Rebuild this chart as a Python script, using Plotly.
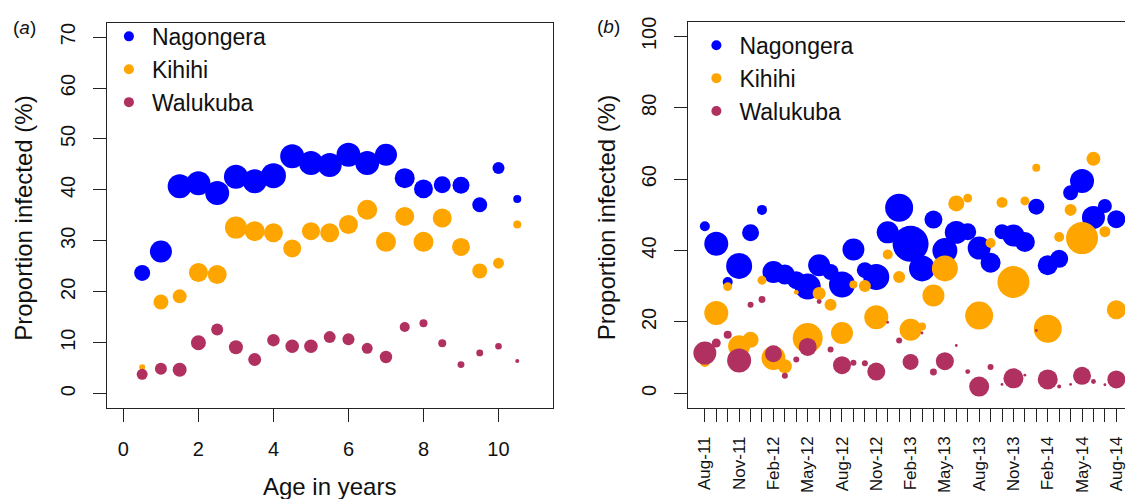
import math
import plotly.graph_objects as go

# ---------------- data ----------------
sites = ["Nagongera", "Kihihi", "Walukuba"]
site_colors = ["#0000FF", "#FFA500", "#B03060"]

# Panel (a): proportion infected by age
ages = [0.5, 1.0, 1.5, 2.0, 2.5, 3.0, 3.5, 4.0, 4.5, 5.0, 5.5,
        6.0, 6.5, 7.0, 7.5, 8.0, 8.5, 9.0, 9.5, 10.0, 10.5]
age_nagongera = [23.7, 27.9, 40.7, 41.3, 39.4, 42.6, 41.7, 42.8, 46.6, 45.3, 44.9,
                 46.9, 45.3, 46.9, 42.3, 40.2, 41.0, 40.9, 37.1, 44.3, 38.2]
age_kihihi = [5.2, 18.0, 19.1, 23.8, 23.4, 32.6, 31.9, 31.6, 28.5, 31.9, 31.6,
              33.2, 36.1, 29.8, 34.8, 29.8, 34.5, 28.8, 24.1, 25.6, 33.2]
age_walukuba = [3.8, 4.9, 4.7, 10.0, 12.6, 9.1, 6.7, 10.5, 9.3, 9.3, 11.1,
                10.7, 8.9, 7.2, 13.1, 13.8, 9.9, 5.7, 8.0, 9.3, 6.4]
# sample sizes (bubble area)
age_n_nagongera = [64, 121, 144, 144, 144, 144, 144, 156, 144, 144, 144,
                   144, 144, 121, 100, 90, 72, 72, 56, 36, 16]
age_n_kihihi = [9, 56, 49, 90, 90, 121, 100, 90, 81, 81, 90,
                90, 100, 100, 90, 100, 90, 81, 56, 30, 16]
age_n_walukuba = [30, 36, 49, 56, 36, 49, 42, 39, 46, 46, 36,
                  36, 30, 39, 25, 16, 16, 12, 12, 11, 4]

# Panel (b): proportion infected by month
months = ["Aug-11", "Sep-11", "Oct-11", "Nov-11", "Dec-11", "Jan-12", "Feb-12",
          "Mar-12", "Apr-12", "May-12", "Jun-12", "Jul-12", "Aug-12", "Sep-12",
          "Oct-12", "Nov-12", "Dec-12", "Jan-13", "Feb-13", "Mar-13", "Apr-13",
          "May-13", "Jun-13", "Jul-13", "Aug-13", "Sep-13", "Oct-13", "Nov-13",
          "Dec-13", "Jan-14", "Feb-14", "Mar-14", "Apr-14", "May-14", "Jun-14",
          "Jul-14", "Aug-14"]
month_tick_labels = ["Aug-11", "Nov-11", "Feb-12", "May-12", "Aug-12", "Nov-12",
                     "Feb-13", "May-13", "Aug-13", "Nov-13", "Feb-14", "May-14",
                     "Aug-14"]
mon_nagongera = [46.8, 41.9, 31.2, 35.7, 45.0, 51.4, 34.0, 33.3, 31.7, 29.9, 35.9,
                 34.0, 30.5, 40.3, 34.5, 32.6, 45.1, 52.0, 41.9, 35.0, 48.7,
                 40.0, 45.1, 45.3, 40.7, 36.6, 45.3, 44.2, 42.4, 52.3, 35.9,
                 37.7, 56.2, 59.5, 49.3, 52.5, 48.8]
mon_kihihi = [8.8, 22.5, 29.9, 13.2, 15.0, 31.7, 9.9, 7.6, 28.3, 15.5, 28.0,
              24.8, 16.9, 30.5, 30.1, 21.3, 38.9, 32.6, 17.8, 18.7, 27.4,
              35.0, 53.2, 54.7, 21.8, 42.1, 53.5, 31.2, 53.9, 63.2, 18.1,
              43.8, 51.4, 43.5, 65.7, 45.3, 23.4]
mon_walukuba = [11.3, 14.1, 16.4, 9.2, 24.8, 26.3, 11.1, 4.9, 9.5, 13.0, 25.7,
                12.3, 7.9, 8.6, 8.4, 6.1, 19.9, 14.8, 8.8, 16.9, 6.0,
                9.0, 13.4, 6.1, 1.9, 7.4, 2.5, 4.2, 5.1, 17.6, 3.9,
                1.9, 2.5, 4.9, 3.3, 2.4, 3.9]
mon_n_nagongera = [25, 144, 25, 169, 72, 25, 121, 100, 81, 169, 121, 64, 169, 121,
                   64, 169, 121, 196, 324, 169, 81, 156, 132, 72, 132, 100, 56,
                   121, 100, 64, 100, 81, 56, 144, 132, 49, 81]
mon_n_kihihi = [25, 144, 20, 121, 64, 20, 144, 49, 6, 225, 42, 36, 121, 16, 36,
                144, 25, 36, 121, 16, 121, 169, 64, 20, 196, 25, 30, 256, 20, 16,
                196, 25, 36, 256, 49, 30, 90]
mon_n_walukuba = [132, 20, 16, 144, 9, 12, 72, 9, 9, 81, 6, 9, 81, 9, 9, 81, 2, 9,
                  64, 2, 12, 81, 2, 6, 100, 9, 2, 100, 2, 2, 100, 4, 2, 81, 6, 2, 81]

# ---------------- figure ----------------
W, H = 1126, 499
FONT = "Liberation Sans, Arial, sans-serif"
AX = "#222222"


def bubble(n):
    return [2.0 * math.sqrt(v) for v in n]


fig = go.Figure()

age_series = [age_nagongera, age_kihihi, age_walukuba]
age_ns = [age_n_nagongera, age_n_kihihi, age_n_walukuba]
mon_series = [mon_nagongera, mon_kihihi, mon_walukuba]
mon_ns = [mon_n_nagongera, mon_n_kihihi, mon_n_walukuba]

for name, col, ys, ns in zip(sites, site_colors, age_series, age_ns):
    fig.add_trace(go.Scatter(x=ages, y=ys, mode="markers", name=name,
                             showlegend=False, xaxis="x", yaxis="y",
                             marker=dict(color=col, size=bubble(ns),
                                         line=dict(width=0), opacity=1)))
for name, col, ys, ns in zip(sites, site_colors, mon_series, mon_ns):
    fig.add_trace(go.Scatter(x=months, y=ys, mode="markers", name=name,
                             showlegend=False, xaxis="x2", yaxis="y2",
                             marker=dict(color=col, size=bubble(ns),
                                         line=dict(width=0), opacity=1)))
# legend keys
for name, col in zip(sites, site_colors):
    fig.add_trace(go.Scatter(x=[None], y=[None], mode="markers", name=name,
                             xaxis="x", yaxis="y", legend="legend",
                             marker=dict(color=col, size=10, line=dict(width=0))))
for name, col in zip(sites, site_colors):
    fig.add_trace(go.Scatter(x=[None], y=[None], mode="markers", name=name,
                             xaxis="x2", yaxis="y2", legend="legend2",
                             marker=dict(color=col, size=10, line=dict(width=0))))

axis_common = dict(showline=True, linecolor=AX, linewidth=1, ticks="outside",
                   ticklen=13, tickwidth=1, tickcolor=AX, showgrid=False,
                   zeroline=False, tickfont=dict(family=FONT, size=20, color="#111"))

title_font = dict(family=FONT, size=24, color="#111")
legend_font = dict(family=FONT, size=23, color="#111")

fig.update_layout(
    width=W, height=H,
    margin=dict(l=0, r=0, t=0, b=0),
    paper_bgcolor="white", plot_bgcolor="white",
    font=dict(family=FONT, color="#111"),
    xaxis=dict(domain=[107 / W, 553 / W], range=[-0.44, 11.44],
               tickmode="array", tickvals=[0, 2, 4, 6, 8, 10], mirror=True,
               ticklabelstandoff=10, anchor="y", **axis_common),
    yaxis=dict(domain=[1 - 407 / H, 1 - 18 / H], range=[-2.8, 72.8],
               tickmode="array", tickvals=[0, 10, 20, 30, 40, 50, 60, 70],
               tickangle=-90, mirror=True, ticklabelstandoff=10, anchor="x",
               **axis_common),
    xaxis2=dict(domain=[689 / W, 1.0], range=[-1.44, 36.76], type="category",
                categoryorder="array", categoryarray=months,
                tickmode="array", tickvals=months,
                ticktext=[m if m in month_tick_labels else "" for m in months],
                tickangle=-90, mirror=True, ticklabelstandoff=8, anchor="y2",
                **{**axis_common, "tickfont": dict(family=FONT, size=17, color="#111")}),
    yaxis2=dict(domain=[1 - 406.7 / H, 1 - 17.3 / H], range=[-4, 104],
                tickmode="array", tickvals=[0, 20, 40, 60, 80, 100],
                tickangle=-90, mirror=False, ticklabelstandoff=10, anchor="x2",
                **axis_common),
    legend=dict(x=106 / W, y=1 - 10 / H, xanchor="left", yanchor="top",
                itemwidth=36, bgcolor="rgba(0,0,0,0)", font=legend_font),
    legend2=dict(x=694 / W, y=1 - 19 / H, xanchor="left", yanchor="top",
                 itemwidth=36, bgcolor="rgba(0,0,0,0)", font=legend_font),
    annotations=[
        dict(text="Proportion infected (%)", x=24 / W, y=1 - 215 / H, xref="paper",
             yref="paper", xanchor="center", yanchor="middle", textangle=-90,
             showarrow=False, font=title_font),
        dict(text="Proportion infected (%)", x=607 / W, y=1 - 215 / H, xref="paper",
             yref="paper", xanchor="center", yanchor="middle", textangle=-90,
             showarrow=False, font=title_font),
        dict(text="Age in years", x=330 / W, y=1 - 486 / H, xref="paper",
             yref="paper", xanchor="center", yanchor="middle", showarrow=False,
             font=title_font),
        dict(text="(<i>a</i>)", x=25 / W, y=1 - 23 / H, xref="paper", yref="paper",
             xanchor="center", yanchor="middle", showarrow=False,
             font=dict(family=FONT, size=19, color="#111")),
        dict(text="(<i>b</i>)", x=609 / W, y=1 - 22 / H, xref="paper", yref="paper",
             xanchor="center", yanchor="middle", showarrow=False,
             font=dict(family=FONT, size=19, color="#111")),
    ],
)

fig.write_html("out.html")
